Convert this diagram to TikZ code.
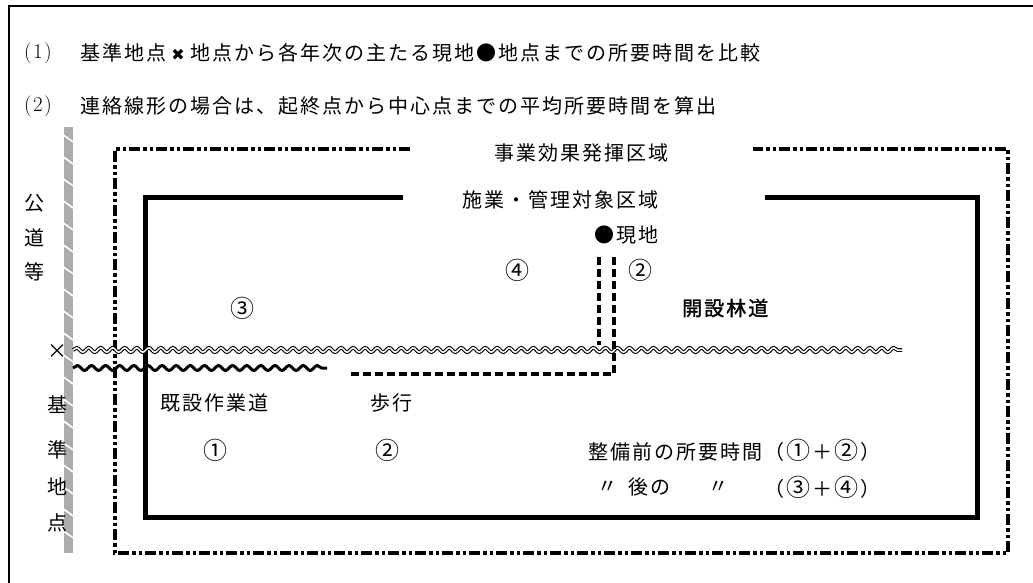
\documentclass[tikz,border=0pt]{standalone}
\usepackage{fontspec}
\usetikzlibrary{decorations.pathmorphing}
\newfontfamily\jp{Noto Sans CJK JP}
\newfontfamily\jpb[FakeBold=1.5]{Noto Sans CJK JP}
\newfontfamily\dv{DejaVu Sans}
\newdimen\lsk \lsk=2pt
\def\ls#1{\lsB#1\relax}
\def\lsB#1{#1\lsC}
\def\lsC#1{\ifx\relax#1\else\kern\lsk\expandafter\lsB\expandafter#1\fi}
\newcommand\cnum[1]{{\fontsize{24}{24}\selectfont#1}}
\tikzset{
 jt/.style={font=\jp\fontsize{20}{22}\selectfont, inner sep=0pt},
 jtb/.style={font=\jpb\fontsize{20}{22}\selectfont, inner sep=0pt},
 ct/.style={font=\jp\fontsize{24}{24}\selectfont, inner sep=0pt},
 numt/.style={font=\fontsize{21}{22}\selectfont, inner sep=0pt, anchor=west},
 frameline/.style={line width=2pt},
 zone/.style={line width=3.5pt, dash pattern=on 11pt off 3pt on 3.5pt off 3pt on 3.5pt off 3pt},
 area/.style={line width=5pt, line join=miter},
 walk/.style={line width=4pt, dash pattern=on 8pt off 4pt},
 newroad/.style={decorate, decoration={snake, segment length=12.015pt, amplitude=2.2pt}, line width=1.1pt, double=white, double distance=1.5pt},
 oldroad/.style={decorate, decoration={snake, segment length=14.11pt, amplitude=2.5pt}, line width=3pt},
}
\begin{document}
\begin{tikzpicture}[x=1pt,y=-1pt]
\useasboundingbox (0,0) rectangle (1033,582);
% outer frame
\draw[frameline] (9,590) -- (9,6) -- (1040,6);
% header lines
\node[numt] (n1) at (24,53) {(\kern1.5pt1\kern1.5pt)};
\node[jt, anchor=west] (t1) at (80,53) {\ls{基準地点}\kern\lsk\makebox[20pt]{\dv\fontsize{16}{16}\selectfont ✖}\kern\lsk\ls{地点から各年次の主たる現地●地点までの所要時間を比較}};
\node[numt] (n2) at (24,106) {(\kern1.5pt2\kern1.5pt)};
\node[jt, anchor=west] (t2) at (80,106) {\ls{連絡線形の場合は、起終点から中心点までの平均所要時間を算出}};
% public road band
\begin{scope}
\clip (64,127) rectangle (73,553);
\fill[gray!65] (64,127) rectangle (73,553);
\foreach \yy in {134,156,...,560} \draw[white, line width=1.6pt] (62,\yy) -- (76,{\yy+10});
\end{scope}
\node[jt] (k1) at (34,203) {公};
\node[jt] (k2) at (34,238) {道};
\node[jt] (k3) at (34,272) {等};
\node[jt] (b1) at (57,405) {基};
\node[jt] (b2) at (57,450) {準};
\node[jt] (b3) at (57,487) {地};
\node[jt] (b4) at (57,523) {点};
\node[jt] (x0) at (57,352) {×};
% effect zone (dash-dot)
\draw[zone] (410,149) -- (115,149) -- (115,553) -- (1008,553) -- (1008,149) -- (753,149);
\node[jt] (zl) at (581,153) {\ls{事業効果発揮区域}};
% managed area (solid)
\draw[area] (403,197) -- (145,197) -- (145,517) -- (977,517) -- (977,197) -- (765,197);
\node[jt] (al) at (560,200) {\ls{施業・管理対象区域}};
% site
\node[jt, anchor=west] (site) at (594,235) {\ls{●現地}};
\node[ct] (c4) at (517,270) {④};
\node[ct] (c2a) at (640,270) {②};
\node[ct] (c3) at (242,308) {③};
\node[jtb, anchor=west] (rin) at (682,308) {\ls{開設林道}};
% roads
\coordinate (rs) at (73,350);
\coordinate (re) at (902,350);
\draw[newroad] (rs) -- (re);
\coordinate (os) at (73,368);
\coordinate (oe) at (327,368);
\draw[oldroad] (os) -- (oe);
% walking path
\coordinate (w1) at (599,257);
\coordinate (w2) at (599,345);
\coordinate (w3) at (614,257);
\coordinate (w4) at (614,374);
\coordinate (w5) at (348,374);
\draw[walk] (w1) -- (w2);
\draw[walk] (w3) -- (w4) -- (w5);
% labels below
\node[jt, anchor=west] (kis) at (160,403) {\ls{既設作業道}};
\node[jt, anchor=west] (ho) at (370,403) {\ls{歩行}};
\node[ct] (c1) at (215,450) {①};
\node[ct] (c2b) at (387,450) {②};
\node[jt, anchor=west] (pre) at (588,450) {\ls{整備前の所要時間}\kern\lsk（\kern\lsk\cnum{①}\kern\lsk＋\kern\lsk\cnum{②}\kern\lsk）};
\node[jt] (d1) at (607,487) {〃};
\node[jt, anchor=west] (post) at (628,487) {\ls{後の}};
\node[jt] (d2) at (718,487) {〃};
\node[jt, anchor=west] (sum2) at (764,487) {（\kern\lsk\cnum{③}\kern\lsk＋\kern\lsk\cnum{④}\kern\lsk）};
\end{tikzpicture}
\end{document}
